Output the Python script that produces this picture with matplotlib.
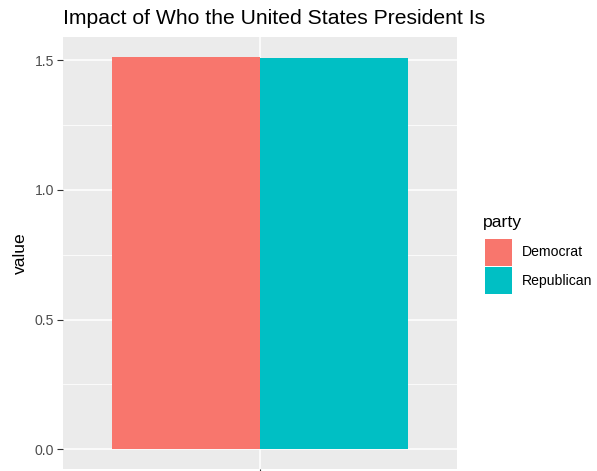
import matplotlib
matplotlib.use("Agg")
import matplotlib.pyplot as plt
from matplotlib.patches import Rectangle

plt.rcParams['font.family'] = ['Liberation Sans', 'DejaVu Sans']

# data
parties = ["Democrat", "Republican"]
values = [1.513, 1.506]
colors = ["#F8766D", "#00BFC4"]
y_ticks = [0.0, 0.5, 1.0, 1.5]
y_tick_labels = ["0.0", "0.5", "1.0", "1.5"]

W, H = 597, 471
fig = plt.figure(figsize=(W / 100, H / 100), dpi=100)

def fx(px):
    return px / W

def fy(py):
    return 1 - py / H

left, right, top, bottom = 63, 457, 37, 469
ax = fig.add_axes([fx(left), fy(bottom), fx(right - left), (bottom - top) / H])
ax.set_facecolor("#EBEBEB")

# dodged bars around a single x position
bw = 0.45
xs = [1 - bw / 2, 1 + bw / 2]
ax.bar(xs, values, width=bw, color=colors, zorder=3)

ymax = max(values)
ax.set_ylim(-0.05 * ymax, 1.05 * ymax)
ax.set_xlim(0.4, 1.6)

ax.set_yticks(y_ticks)
ax.set_yticklabels(y_tick_labels)
ax.set_yticks([0.25, 0.75, 1.25], minor=True)
ax.set_xticks([1.0])
ax.set_xticklabels([""])
ax.grid(True, which="major", color="white", linewidth=1.1, zorder=1)
ax.grid(True, which="minor", axis="y", color="white", linewidth=0.55, zorder=1)
for s in ax.spines.values():
    s.set_visible(False)
ax.tick_params(axis="both", which="major", length=4.3, width=0.8, color="#333333",
               labelsize=10.1, labelcolor="#4D4D4D", pad=2.2)
ax.tick_params(axis="both", which="minor", length=0)
ax.set_axisbelow(True)

ax.set_ylabel("value", fontsize=12.6, color="black", labelpad=5)

fig.text(fx(63), fy(23.5), "Impact of Who the United States President Is",
         fontsize=15.2, ha="left", va="baseline", color="black")

# legend
fig.text(fx(483), fy(226.5), "party", fontsize=12.6, ha="left", va="baseline", color="black")
key = 27
for i, (name, c) in enumerate(zip(parties, colors)):
    y0 = 239 + i * 28
    fig.patches.append(Rectangle((fx(485), fy(y0 + key)), fx(key), key / H,
                                 facecolor=c, edgecolor="none",
                                 transform=fig.transFigure, figure=fig))
    fig.text(fx(522), fy(y0 + key / 2), name, fontsize=10.1, ha="left", va="center",
             color="black")

fig.savefig("out.png", dpi=100)
